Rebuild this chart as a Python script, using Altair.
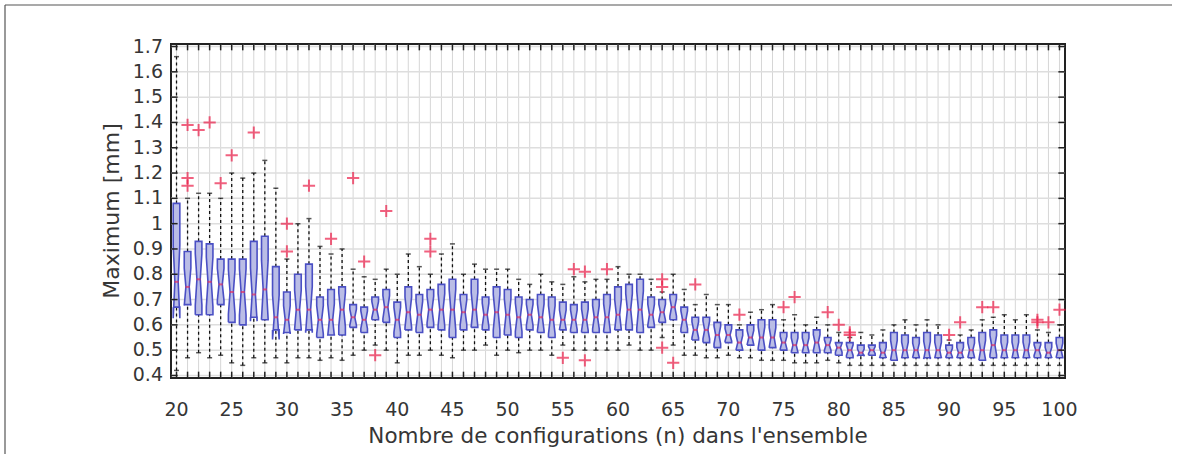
import altair as alt
import pandas as pd

# Ensemble size n
n_values = list(range(20, 101))

# Box statistics of the maximum [mm] for each ensemble size
whisker_lo = [0.42, 0.47, 0.49, 0.47, 0.48, 0.45, 0.44, 0.47, 0.45, 0.47,
              0.45, 0.47, 0.47, 0.46, 0.47, 0.46, 0.48, 0.50, 0.52, 0.50,
              0.45, 0.48, 0.48, 0.50, 0.48, 0.47, 0.50, 0.50, 0.52, 0.48,
              0.50, 0.49, 0.50, 0.50, 0.48, 0.52, 0.50, 0.50, 0.50, 0.50,
              0.50, 0.52, 0.50, 0.50, 0.55, 0.52, 0.48, 0.48, 0.47, 0.47,
              0.48, 0.47, 0.47, 0.46, 0.46, 0.46, 0.45, 0.45, 0.45, 0.46,
              0.45, 0.44, 0.44, 0.44, 0.44, 0.44, 0.44, 0.44, 0.44, 0.44,
              0.44, 0.44, 0.44, 0.44, 0.44, 0.44, 0.44, 0.44, 0.44, 0.44,
              0.44]
q1 = [0.67, 0.68, 0.64, 0.64, 0.68, 0.61, 0.60, 0.63, 0.62, 0.58,
      0.57, 0.58, 0.58, 0.55, 0.56, 0.56, 0.59, 0.57, 0.62, 0.61,
      0.55, 0.58, 0.57, 0.59, 0.58, 0.55, 0.58, 0.59, 0.58, 0.55,
      0.56, 0.55, 0.58, 0.57, 0.55, 0.58, 0.57, 0.57, 0.57, 0.57,
      0.58, 0.58, 0.57, 0.59, 0.61, 0.62, 0.57, 0.54, 0.53, 0.51,
      0.53, 0.50, 0.52, 0.50, 0.51, 0.50, 0.49, 0.49, 0.49, 0.49,
      0.48, 0.47, 0.48, 0.48, 0.47, 0.46, 0.47, 0.47, 0.47, 0.47,
      0.47, 0.47, 0.47, 0.46, 0.47, 0.47, 0.47, 0.47, 0.47, 0.47,
      0.47]
median = [0.77, 0.75, 0.78, 0.77, 0.76, 0.73, 0.73, 0.72, 0.74, 0.63,
          0.62, 0.66, 0.66, 0.62, 0.62, 0.66, 0.63, 0.62, 0.66, 0.67,
          0.62, 0.65, 0.64, 0.66, 0.66, 0.66, 0.65, 0.66, 0.64, 0.65,
          0.64, 0.63, 0.64, 0.63, 0.62, 0.62, 0.62, 0.62, 0.63, 0.63,
          0.64, 0.66, 0.66, 0.64, 0.65, 0.67, 0.62, 0.58, 0.58, 0.56,
          0.56, 0.53, 0.55, 0.55, 0.55, 0.53, 0.52, 0.52, 0.53, 0.52,
          0.51, 0.50, 0.49, 0.50, 0.49, 0.50, 0.50, 0.50, 0.50, 0.50,
          0.49, 0.49, 0.50, 0.50, 0.52, 0.50, 0.50, 0.50, 0.50, 0.49,
          0.50]
q3 = [1.08, 0.89, 0.93, 0.92, 0.86, 0.86, 0.86, 0.93, 0.95, 0.83,
      0.73, 0.80, 0.84, 0.71, 0.74, 0.75, 0.68, 0.67, 0.71, 0.74,
      0.69, 0.75, 0.72, 0.74, 0.76, 0.78, 0.72, 0.78, 0.71, 0.75,
      0.74, 0.71, 0.70, 0.72, 0.71, 0.69, 0.68, 0.69, 0.70, 0.72,
      0.75, 0.76, 0.78, 0.71, 0.70, 0.72, 0.67, 0.63, 0.63, 0.61,
      0.60, 0.58, 0.60, 0.62, 0.62, 0.57, 0.57, 0.57, 0.58, 0.55,
      0.53, 0.53, 0.52, 0.52, 0.53, 0.57, 0.56, 0.55, 0.57, 0.56,
      0.52, 0.53, 0.55, 0.57, 0.58, 0.56, 0.56, 0.56, 0.53, 0.53,
      0.55]
whisker_hi = [1.66, 1.10, 1.12, 1.12, 1.10, 1.20, 1.18, 1.20, 1.25, 1.14,
              0.86, 1.00, 1.02, 0.91, 0.88, 0.90, 0.82, 0.79, 0.78, 0.82,
              0.80, 0.88, 0.83, 0.80, 0.88, 0.92, 0.80, 0.84, 0.82, 0.82,
              0.82, 0.78, 0.76, 0.80, 0.77, 0.76, 0.79, 0.77, 0.78, 0.78,
              0.83, 0.80, 0.80, 0.78, 0.73, 0.80, 0.74, 0.68, 0.72, 0.68,
              0.68, 0.60, 0.65, 0.66, 0.68, 0.62, 0.64, 0.60, 0.63, 0.60,
              0.57, 0.55, 0.57, 0.56, 0.58, 0.60, 0.62, 0.60, 0.62, 0.60,
              0.54, 0.56, 0.58, 0.62, 0.63, 0.64, 0.62, 0.64, 0.58, 0.57,
              0.60]

# Points beyond the whiskers
outlier_n = [21, 21, 21, 22, 23, 24, 25, 27, 30, 30, 32, 34, 36, 37, 38, 39,
             43, 43, 55, 56, 57, 57, 59, 64, 64, 64, 65, 67, 71, 75, 76, 79,
             80, 81, 81, 90, 91, 93, 94, 98, 98, 99, 100]
outlier_val = [1.39, 1.18, 1.15, 1.37, 1.40, 1.16, 1.27, 1.36, 1.00, 0.89,
               1.15, 0.94, 1.18, 0.85, 0.48, 1.05, 0.94, 0.89, 0.47, 0.82,
               0.81, 0.46, 0.82, 0.78, 0.75, 0.51, 0.45, 0.76, 0.64, 0.67,
               0.71, 0.65, 0.60, 0.57, 0.56, 0.56, 0.61, 0.67, 0.67, 0.62,
               0.61, 0.61, 0.66]

# Tick labels
x_labels = list(range(20, 101, 5))
y_ticks = [round(0.4 + 0.1 * i, 1) for i in range(14)]
y_labels = ["1" if v == 1.0 else f"{v:.1f}" for v in y_ticks]

X_TITLE = "Nombre de configurations (n) dans l'ensemble"
Y_TITLE = "Maximum [mm]"

X_DOM = [19.5, 100.5]
Y_DOM = [0.39, 1.71]
HALF_W = 0.3          # half box width, in units of n
SAMPLES = 20          # runs per ensemble, sets the notch height
W, H = 894, 334

boxes = pd.DataFrame({"n": n_values, "lo": whisker_lo, "q1": q1, "med": median,
                      "q3": q3, "hi": whisker_hi})
outliers = pd.DataFrame({"n": outlier_n, "v": outlier_val})

# Notched box outline as a closed polygon: full width at the quartiles,
# half width at the median
rows = []
for n, a, m, b in zip(n_values, q1, median, q3):
    notch = 1.57 * (b - a) / SAMPLES ** 0.5
    side = [(a, 1.0), (m - notch, 1.0), (m, 0.5), (m + notch, 1.0), (b, 1.0)]
    ring = [(y, -w) for y, w in side] + [(y, w) for y, w in reversed(side)]
    ring.append(ring[0])
    for k, (y, w) in enumerate(ring):
        rows.append({"n": n, "k": k, "y": y, "x": n + HALF_W * w})
notched = pd.DataFrame(rows)

FONT = "DejaVu Sans"
TEXT = "#363636"

x_scale = alt.Scale(domain=X_DOM, nice=False, zero=False)
y_scale = alt.Scale(domain=Y_DOM, nice=False, zero=False)

tick_x = pd.DataFrame({"n": n_values})
tick_y = pd.DataFrame({"v": y_ticks, "label": y_labels})
lab_x = pd.DataFrame({"n": x_labels, "label": [str(v) for v in x_labels]})
titles = pd.DataFrame({"xt": [X_TITLE], "yt": [Y_TITLE]})
one = alt.Chart(titles)

# grid: a light line at every n and every 0.1 mm
grid_v = alt.Chart(tick_x).mark_rule(color="#d6d6d6", strokeWidth=1).encode(
    x=alt.X("n:Q", scale=x_scale, axis=None),
    y=alt.datum(Y_DOM[0], scale=y_scale, axis=None), y2=alt.datum(Y_DOM[1]))
grid_h = alt.Chart(tick_y).mark_rule(color="#dedede", strokeWidth=1.5).encode(
    y=alt.Y("v:Q", axis=None), x=alt.datum(X_DOM[0]), x2=alt.datum(X_DOM[1]))

base = alt.Chart(boxes)
whisk_up = base.mark_rule(color="#111", strokeDash=[3, 3], strokeWidth=1.3).encode(
    x="n:Q", y="q3:Q", y2="hi:Q")
whisk_dn = base.mark_rule(color="#111", strokeDash=[3, 3], strokeWidth=1.3).encode(
    x="n:Q", y="lo:Q", y2="q1:Q")
cap_hi = base.mark_tick(orient="horizontal", color="#111", size=5, thickness=1.5).encode(
    x="n:Q", y="hi:Q")
cap_lo = base.mark_tick(orient="horizontal", color="#111", size=5, thickness=1.5).encode(
    x="n:Q", y="lo:Q")
box = alt.Chart(notched).mark_line(
    fill="#babde6", stroke="#4a4fc4", strokeWidth=1.6, interpolate="linear"
).encode(x="x:Q", y="y:Q", detail="n:N", order="k:Q")
med = base.mark_tick(orient="horizontal", color="#e8305c", size=4, thickness=2).encode(
    x="n:Q", y="med:Q")
outl = alt.Chart(outliers).mark_point(
    shape="M-1,0L1,0M0,-1L0,1", size=150, color="#ec1f4a", strokeWidth=2, filled=False
).encode(x="n:Q", y="v:Q")

# inward ticks on all four sides of the frame
bottom_ticks = alt.Chart(tick_x).mark_rule(color="#222", strokeWidth=1.5).encode(
    x="n:Q", y=alt.datum(Y_DOM[0]), y2=alt.datum(Y_DOM[0] + 0.025))
top_ticks = alt.Chart(tick_x).mark_rule(color="#222", strokeWidth=1.5).encode(
    x="n:Q", y=alt.datum(Y_DOM[1]), y2=alt.datum(Y_DOM[1] - 0.025))
left_ticks = alt.Chart(tick_y).mark_rule(color="#222", strokeWidth=1.5).encode(
    y="v:Q", x=alt.datum(X_DOM[0]), x2=alt.datum(X_DOM[0] + 0.6))
right_ticks = alt.Chart(tick_y).mark_rule(color="#222", strokeWidth=1.5).encode(
    y="v:Q", x=alt.datum(X_DOM[1]), x2=alt.datum(X_DOM[1] - 0.6))

# tick labels and axis titles
x_text = alt.Chart(lab_x).mark_text(
    font=FONT, fontSize=19, color=TEXT, align="center", baseline="middle"
).encode(x="n:Q", y=alt.value(H + 32), text="label:N")
y_text = alt.Chart(tick_y).mark_text(
    font=FONT, fontSize=19, color=TEXT, align="right", baseline="middle"
).encode(y="v:Q", x=alt.value(-8), text="label:N")
x_title = one.mark_text(
    font=FONT, fontSize=21.5, color=TEXT, align="center", baseline="middle"
).encode(x=alt.value(W / 2), y=alt.value(H + 59), text="xt:N")
y_title = one.mark_text(
    font=FONT, fontSize=22, color=TEXT, align="center", baseline="middle", angle=270
).encode(x=alt.value(-59), y=alt.value(H / 2), text="yt:N")

# thin page frame on the left and top
frame_left = one.mark_rule(color="#555", strokeWidth=1.2).encode(
    x=alt.value(-166), y=alt.value(-39), y2=alt.value(420))
frame_top = one.mark_rule(color="#555", strokeWidth=1.2).encode(
    y=alt.value(-39), x=alt.value(-166), x2=alt.value(1001))

chart = alt.layer(
    grid_v, grid_h, whisk_up, whisk_dn, cap_hi, cap_lo, box, med, outl,
    bottom_ticks, top_ticks, left_ticks, right_ticks,
    x_text, y_text, x_title, y_title, frame_left, frame_top,
).properties(
    width=W, height=H,
    autosize=alt.AutoSizeParams(type="none"),
    padding={"left": 171, "top": 44, "right": 113, "bottom": 76},
    background="white",
).configure_view(stroke="#222", strokeWidth=2)

chart.save("out.html", embed_options={"renderer": "svg", "actions": False})
